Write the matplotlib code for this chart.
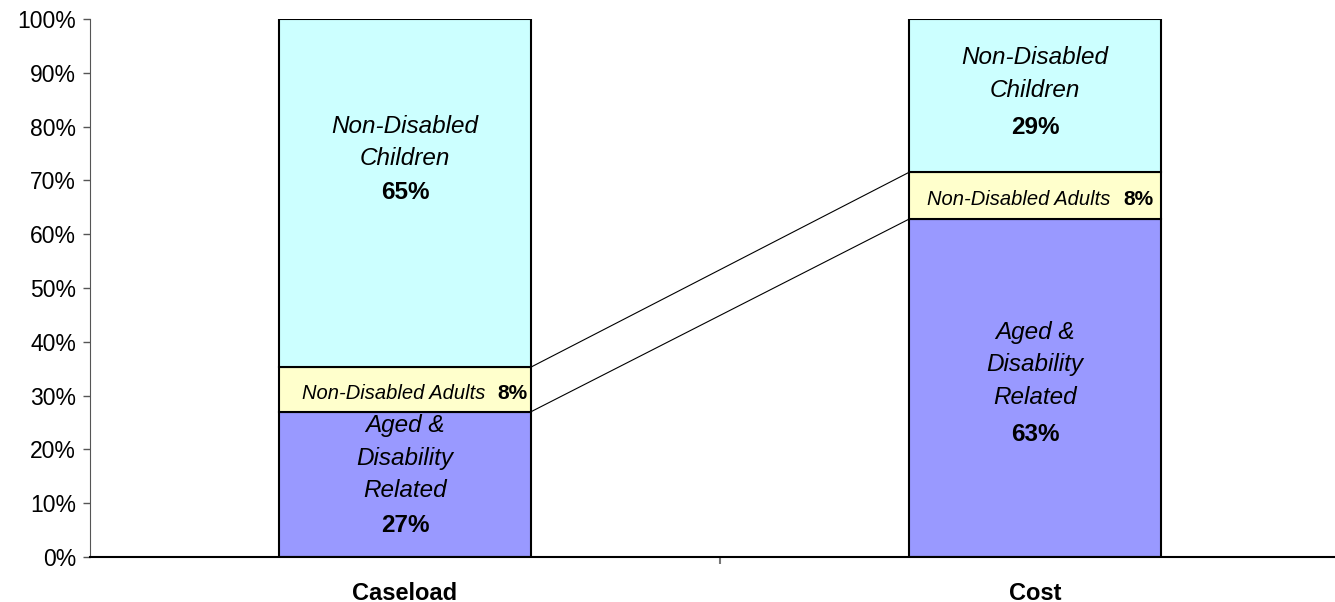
import matplotlib.pyplot as plt
import numpy as np

plt.rcParams['font.family'] = ['Liberation Sans', 'DejaVu Sans']

# shares of total, in percent
categories = ['Caseload', 'Cost']
aged = [27.0, 62.8]
adults = [8.3, 8.7]
children = [64.7, 28.5]
aged_lbl = ['27%', '63%']
adults_lbl = ['8%', '8%']
children_lbl = ['65%', '29%']

c_aged = '#9999FF'
c_adults = '#FFFFCC'
c_children = '#CCFFFF'

fig = plt.figure(figsize=(13.35, 6.02), dpi=100)
ax = fig.add_axes([90/1335, 45/602, 1260/1335, 538/602])

x = np.arange(len(categories))
w = 0.4
aged = np.array(aged)
adults = np.array(adults)
children = np.array(children)

ax.bar(x, aged, w, color=c_aged, edgecolor='black', linewidth=1.5)
ax.bar(x, adults, w, bottom=aged, color=c_adults, edgecolor='black', linewidth=1.5)
ax.bar(x, children, w, bottom=aged+adults, color=c_children, edgecolor='black', linewidth=1.5)

# series lines between the bars
for top in [aged, aged+adults]:
    ax.plot([x[0]+w/2, x[1]-w/2], [top[0], top[1]], color='black', lw=0.8)

fs = 17.5
step = 6.1
# label anchors (top line centre), per bar
aged_y = [24.5, 41.8]
aged_gap = [18.6, 19.1]
child_y = [80.1, 92.8]
child_gap = [12.3, 12.9]
adult_y = [30.3, 66.5]

for i in x:
    for k, line in enumerate(['Aged &', 'Disability', 'Related']):
        ax.text(i, aged_y[i] - k*step, line, ha='center', va='center',
                style='italic', fontsize=fs)
    ax.text(i, aged_y[i] - aged_gap[i], aged_lbl[i], ha='center', va='center',
            fontweight='bold', fontsize=17.5)
    for k, line in enumerate(['Non-Disabled', 'Children']):
        ax.text(i, child_y[i] - k*step, line, ha='center', va='center',
                style='italic', fontsize=fs)
    ax.text(i, child_y[i] - child_gap[i], children_lbl[i], ha='center', va='center',
            fontweight='bold', fontsize=17.5)
    ax.text(i + 0.127 - (0.008 if i else 0), adult_y[i], 'Non-Disabled Adults', ha='right',
            va='center', style='italic', fontsize=14.5)
    ax.text(i + 0.147 - (0.006 if i else 0), adult_y[i], adults_lbl[i], ha='left', va='center',
            fontweight='bold', fontsize=15)

ax.set_xlim(-0.5, 1.5)
ax.set_ylim(0, 100)
ax.set_yticks(np.arange(0, 101, 10))
ax.set_yticklabels([f'{v}%' for v in range(0, 101, 10)], fontsize=16.5)
ax.set_xticks([0.5])
ax.set_xticklabels([''])
ax.tick_params(axis='x', length=5, color='#777777', width=1.5)
ax.tick_params(axis='y', length=5, color='#555555', width=1.0, pad=5)
for i, c in enumerate(categories):
    ax.text(i, -6.7, c, ha='center', va='center', fontweight='bold', fontsize=17)

ax.spines['top'].set_visible(False)
ax.spines['right'].set_visible(False)
ax.spines['left'].set_color('#555555')
ax.spines['bottom'].set_color('black')
ax.spines['bottom'].set_linewidth(1.5)

fig.savefig('out.png', dpi=100)
